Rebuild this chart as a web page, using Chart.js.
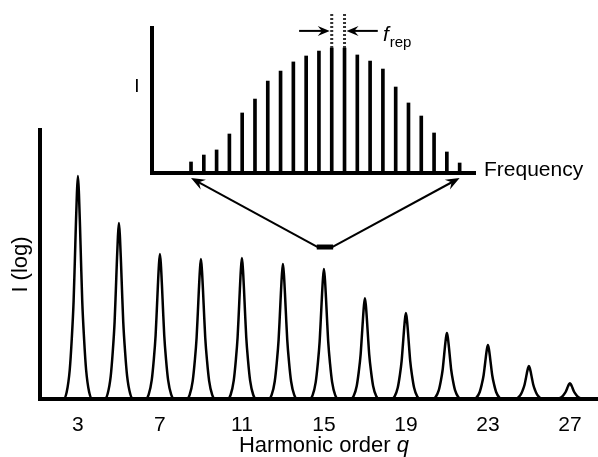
<!DOCTYPE html>
<html>
<head>
<meta charset="utf-8">
<script src="https://cdn.jsdelivr.net/npm/chart.js@4.4.1/dist/chart.umd.min.js"></script>
<style>
  html, body { margin: 0; padding: 0; background: #fff; }
  #wrap { position: relative; width: 598px; height: 457px; }
  #wrap canvas { position: absolute; left: 0; top: 0; }
</style>
</head>
<body>
<div id="wrap">
  <canvas id="main" width="598" height="457"></canvas>
  <canvas id="inset" width="598" height="457"></canvas>
</div>
<script>
const FONT = "'Liberation Sans', Arial, sans-serif";

// main spectrum: odd harmonics, peak heights on a 0-100 (log) scale
const harmonicOrders = [3, 5, 7, 9, 11, 13, 15, 17, 19, 21, 23, 25, 27];
const peakHeights = [82.9, 65.4, 53.9, 52.0, 52.4, 50.2, 48.3, 37.5, 32.0, 24.5, 20.1, 12.3, 5.9];
const tickValues = [3, 7, 11, 15, 19, 23, 27];
const qMin = 1.15, qMax = 28.37;

const profileOffsets = [-0.7, -0.55, -0.4, -0.3, -0.21, -0.15, -0.1, -0.05, 0, 0.05, 0.1, 0.15, 0.21, 0.3, 0.4, 0.55, 0.7];
const profileLevels  = [0, 0.03, 0.13, 0.27, 0.44, 0.62, 0.78, 0.92, 1, 0.92, 0.78, 0.62, 0.44, 0.27, 0.13, 0.03, 0];

// marker under the zoomed part of the spectrum (q range, level)
const zoomQ = [14.65, 15.45];
const zoomLevel = 56.5;

// inset: frequency comb lines
const combIndex = [0, 1, 2, 3, 4, 5, 6, 7, 8, 9, 10, 11, 12, 13, 14, 15, 16, 17, 18, 19, 20, 21];
const combHeights = [7.6, 12.4, 15.9, 26.9, 41.4, 51, 63.4, 70.3, 76.6, 80.7, 84.1, 86.2, 86.2, 81.4, 77.2, 71.7, 59.3, 48.3, 39.3, 27.6, 14.5, 6.9];
const combMin = -3.05, combMax = 22.2;
const frepLines = [11, 12];
const frepTop = 110;
const frepArrowLevel = 98;
const frepArrowFrom = [8.45, 14.6];
const frepTextAt = 15.0;

function arrowHead(ctx, x1, y1, x2, y2, len, half) {
    const a = Math.atan2(y2 - y1, x2 - x1);
    const c = Math.cos(a), s = Math.sin(a);
    ctx.beginPath();
    ctx.moveTo(x2, y2);
    ctx.lineTo(x2 - len * c + half * s, y2 - len * s - half * c);
    ctx.lineTo(x2 - len * 0.65 * c, y2 - len * 0.65 * s);
    ctx.lineTo(x2 - len * c - half * s, y2 - len * s + half * c);
    ctx.closePath();
    ctx.fill();
}

function arrow(ctx, x1, y1, x2, y2, len, half) {
    const a = Math.atan2(y2 - y1, x2 - x1);
    ctx.beginPath();
    ctx.moveTo(x1, y1);
    ctx.lineTo(x2 - len * 0.6 * Math.cos(a), y2 - len * 0.6 * Math.sin(a));
    ctx.stroke();
    arrowHead(ctx, x1, y1, x2, y2, len, half);
}

//inset chart
const insetExtras = {
    id: 'insetExtras',
    afterDraw(chart) {
        const ctx = chart.ctx;
        const x = chart.scales.x, y = chart.scales.y;
        ctx.save();
        ctx.fillStyle = '#000';
        ctx.strokeStyle = '#000';
        // dotted extension of the two lines spaced by f_rep
        ctx.setLineDash([2, 2]);
        ctx.lineWidth = 3;
        ctx.strokeStyle = '#333';
        frepLines.forEach(i => {
            ctx.beginPath();
            ctx.moveTo(x.getPixelForValue(combIndex[i]), y.getPixelForValue(combHeights[i]));
            ctx.lineTo(x.getPixelForValue(combIndex[i]), y.getPixelForValue(frepTop));
            ctx.stroke();
        });
        ctx.setLineDash([]);
        ctx.strokeStyle = '#000';
        ctx.lineWidth = 2;
        const ay = y.getPixelForValue(frepArrowLevel);
        arrow(ctx, x.getPixelForValue(frepArrowFrom[0]), ay, x.getPixelForValue(frepLines[0]) - 2, ay, 12, 5);
        arrow(ctx, x.getPixelForValue(frepArrowFrom[1]), ay, x.getPixelForValue(frepLines[1]) + 2, ay, 12, 5);
        // f_rep label
        const fx = x.getPixelForValue(frepTextAt);
        ctx.textBaseline = 'alphabetic';
        ctx.textAlign = 'left';
        ctx.font = 'italic 21px ' + FONT;
        ctx.fillText('f', fx, ay + 10);
        const fw = ctx.measureText('f').width;
        ctx.font = '15px ' + FONT;
        ctx.fillText('rep', fx + fw + 1, ay + 16);
        // axis labels
        ctx.font = '19px ' + FONT;
        ctx.textAlign = 'center';
        ctx.fillText('I', chart.chartArea.left - 15, y.getPixelForValue(61) + 7);
        ctx.font = '21px ' + FONT;
        ctx.textAlign = 'left';
        ctx.fillText('Frequency', chart.chartArea.right + 9, chart.chartArea.bottom + 3);
        ctx.restore();
    }
};

const insetChart = new Chart(document.getElementById('inset'), {
    type: 'bar',
    data: {
        datasets: [{
            data: combIndex.map((v, i) => ({ x: v, y: combHeights[i] })),
            backgroundColor: '#000',
            barThickness: 3
        }]
    },
    options: {
        responsive: false,
        animation: false,
        events: [],
        layout: { padding: { left: 152, top: 28, right: 123, bottom: 284 } },
        plugins: { legend: { display: false }, tooltip: { enabled: false } },
        scales: {
            x: {
                type: 'linear', min: combMin, max: combMax, offset: false,
                grid: { display: false, offset: false }, ticks: { display: false },
                border: { color: '#000', width: 4 },
                afterFit: s => { s.height = 0; }
            },
            y: {
                min: 0, max: 100,
                grid: { display: false }, ticks: { display: false },
                border: { color: '#000', width: 4 },
                afterFit: s => { s.width = 0; }
            }
        }
    },
    plugins: [insetExtras]
});

// main chart
const mainPoints = [{ x: qMin, y: 0 }];
harmonicOrders.forEach((q, i) => {
    profileOffsets.forEach((d, j) => {
        mainPoints.push({ x: q + d, y: peakHeights[i] * profileLevels[j] });
    });
});
mainPoints.push({ x: qMax, y: 0 });

const mainExtras = {
    id: 'mainExtras',
    afterDraw(chart) {
        const ctx = chart.ctx;
        const x = chart.scales.x, y = chart.scales.y;
        ctx.save();
        ctx.fillStyle = '#000';
        ctx.strokeStyle = '#000';
        // x axis title with italic q
        ctx.font = '22px ' + FONT;
        const t1 = 'Harmonic order ';
        const w1 = ctx.measureText(t1).width;
        ctx.font = 'italic 22px ' + FONT;
        const w2 = ctx.measureText('q').width;
        const cx = x.getPixelForValue(tickValues[3]);
        const left = cx - (w1 + w2) / 2;
        ctx.textBaseline = 'alphabetic';
        ctx.textAlign = 'left';
        ctx.font = '22px ' + FONT;
        ctx.fillText(t1, left, 452);
        ctx.font = 'italic 22px ' + FONT;
        ctx.fillText('q', left + w1, 452);
        // zoom marker and arrows to the inset axis ends
        const mx0 = x.getPixelForValue(zoomQ[0]), mx1 = x.getPixelForValue(zoomQ[1]);
        const my = y.getPixelForValue(zoomLevel);
        ctx.lineWidth = 5;
        ctx.beginPath();
        ctx.moveTo(mx0, my);
        ctx.lineTo(mx1, my);
        ctx.stroke();
        const ix = insetChart.scales.x, iy = insetChart.scales.y;
        const tipY = iy.getPixelForValue(0) + 5;
        ctx.lineWidth = 2;
        arrow(ctx, mx0 + 1, my, ix.getPixelForValue(combIndex[0]), tipY, 14, 5.5);
        arrow(ctx, mx1 - 1, my, ix.getPixelForValue(combIndex[combIndex.length - 1]), tipY, 14, 5.5);
        ctx.restore();
    }
};

new Chart(document.getElementById('main'), {
    type: 'line',
    data: {
        datasets: [{
            data: mainPoints,
            borderColor: '#000',
            borderWidth: 2.5,
            pointRadius: 0,
            fill: false,
            cubicInterpolationMode: 'monotone'
        }]
    },
    options: {
        responsive: false,
        animation: false,
        events: [],
        layout: { padding: { top: 130, left: 0, right: 0, bottom: 0 } },
        plugins: { legend: { display: false }, tooltip: { enabled: false } },
        scales: {
            x: {
                type: 'linear', min: qMin, max: qMax,
                grid: { display: false },
                border: { color: '#000', width: 4 },
                afterBuildTicks: s => { s.ticks = tickValues.map(v => ({ value: v })); },
                ticks: { color: '#000', font: { family: FONT, size: 21 }, padding: 6, autoSkip: false, maxRotation: 0 },
                afterFit: s => { s.height = 58; }
            },
            y: {
                min: 0, max: 100,
                grid: { display: false },
                ticks: { display: false },
                border: { color: '#000', width: 4 },
                title: { display: true, text: 'I (log)', color: '#000', font: { family: FONT, size: 22 }, padding: { top: 8, bottom: 0 } },
                afterFit: s => { s.width = 40; }
            }
        }
    },
    plugins: [mainExtras]
});
</script>
</body>
</html>
